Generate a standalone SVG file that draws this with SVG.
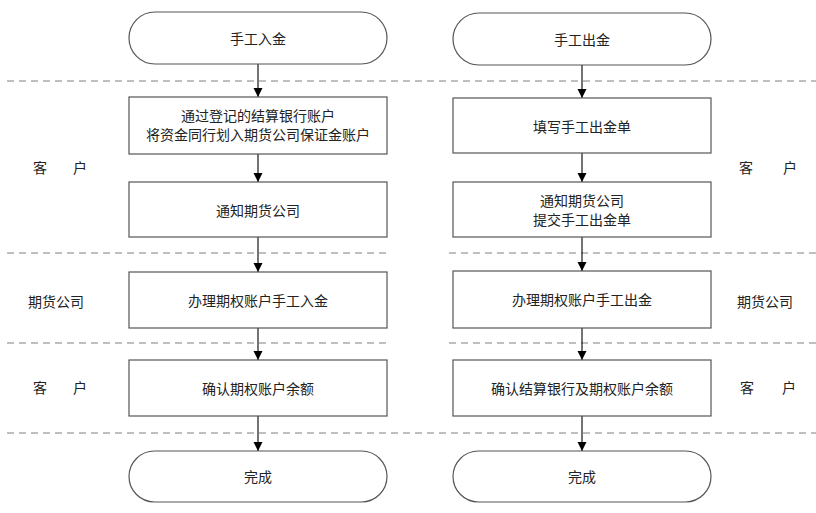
<svg xmlns="http://www.w3.org/2000/svg" width="816" height="513" viewBox="0 0 816 513">
<style>
.term{fill:#fff;stroke:#555;stroke-width:1.2}
.box{fill:#fff;stroke:#555;stroke-width:1.2}
.t{font-family:"Noto Sans CJK SC","Noto Sans CJK JP",sans-serif;font-size:14px;fill:#222;text-anchor:middle;dominant-baseline:central}
.lbl{font-family:"Noto Sans CJK SC","Noto Sans CJK JP",sans-serif;font-size:14px;fill:#222;text-anchor:middle;dominant-baseline:central}
.dash{stroke:#aaa;stroke-width:1.3;stroke-dasharray:7,5;fill:none}
.conn{stroke:#000;stroke-width:1.1;fill:none;marker-end:url(#arr)}
</style>
<defs>
<marker id="arr" markerUnits="userSpaceOnUse" markerWidth="9" markerHeight="11" refX="9" refY="4.5" orient="auto" viewBox="0 0 9 9">
<path d="M0,0 L9,4.5 L0,9 z" fill="#000"/>
</marker>
</defs>
<rect width="816" height="513" fill="#fff"/>
<g id="lanes">
<line class="dash" x1="7" y1="81" x2="816" y2="81"/>
<line class="dash" x1="7" y1="253" x2="390" y2="253"/>
<line class="dash" x1="449" y1="253" x2="816" y2="253"/>
<line class="dash" x1="7" y1="343" x2="390" y2="343"/>
<line class="dash" x1="449" y1="343" x2="816" y2="343"/>
<line class="dash" x1="7" y1="433" x2="816" y2="433"/>
</g>
<g id="lane-labels">
<text class="lbl" y="167"><tspan x="40">客</tspan><tspan x="80">户</tspan></text>
<text class="lbl" x="56" y="301">期货公司</text>
<text class="lbl" y="387"><tspan x="40">客</tspan><tspan x="80">户</tspan></text>
<text class="lbl" y="167"><tspan x="746">客</tspan><tspan x="790">户</tspan></text>
<text class="lbl" x="765" y="301">期货公司</text>
<text class="lbl" y="387"><tspan x="747">客</tspan><tspan x="789">户</tspan></text>
</g>
<g id="connectors">
<line class="conn" x1="258" y1="64" x2="258" y2="97"/>
<line class="conn" x1="258" y1="154" x2="258" y2="182"/>
<line class="conn" x1="258" y1="237" x2="258" y2="272"/>
<line class="conn" x1="258" y1="328" x2="258" y2="360"/>
<line class="conn" x1="258" y1="416" x2="258" y2="451"/>
<line class="conn" x1="582" y1="65" x2="582" y2="98"/>
<line class="conn" x1="582" y1="153" x2="582" y2="182"/>
<line class="conn" x1="582" y1="237" x2="582" y2="271"/>
<line class="conn" x1="582" y1="328" x2="582" y2="360"/>
<line class="conn" x1="582" y1="416" x2="582" y2="451"/>
</g>
<g id="n-start-in"><rect class="term" x="129" y="12" width="258" height="52" rx="26"/><text class="t" x="258" y="38">手工入金</text></g>
<g id="n-in-1"><rect class="box" x="129" y="97" width="258" height="57"/><text class="t" x="258" y="115">通过登记的结算银行账户</text><text class="t" x="258" y="134">将资金同行划入期货公司保证金账户</text></g>
<g id="n-in-2"><rect class="box" x="129" y="182" width="258" height="55"/><text class="t" x="258" y="210">通知期货公司</text></g>
<g id="n-in-3"><rect class="box" x="129" y="272" width="258" height="56"/><text class="t" x="258" y="300">办理期权账户手工入金</text></g>
<g id="n-in-4"><rect class="box" x="129" y="360" width="258" height="56"/><text class="t" x="258" y="388">确认期权账户余额</text></g>
<g id="n-end-in"><rect class="term" x="129" y="451" width="258" height="51" rx="25.5"/><text class="t" x="258" y="476">完成</text></g>
<g id="n-start-out"><rect class="term" x="453" y="13" width="258" height="52" rx="26"/><text class="t" x="582" y="39">手工出金</text></g>
<g id="n-out-1"><rect class="box" x="453" y="98" width="258" height="55"/><text class="t" x="582" y="126">填写手工出金单</text></g>
<g id="n-out-2"><rect class="box" x="453" y="182" width="258" height="55"/><text class="t" x="582" y="200">通知期货公司</text><text class="t" x="582" y="219">提交手工出金单</text></g>
<g id="n-out-3"><rect class="box" x="453" y="271" width="258" height="57"/><text class="t" x="582" y="299">办理期权账户手工出金</text></g>
<g id="n-out-4"><rect class="box" x="453" y="360" width="258" height="56"/><text class="t" x="582" y="388">确认结算银行及期权账户余额</text></g>
<g id="n-end-out"><rect class="term" x="453" y="451" width="258" height="51" rx="25.5"/><text class="t" x="582" y="476">完成</text></g>
</svg>
